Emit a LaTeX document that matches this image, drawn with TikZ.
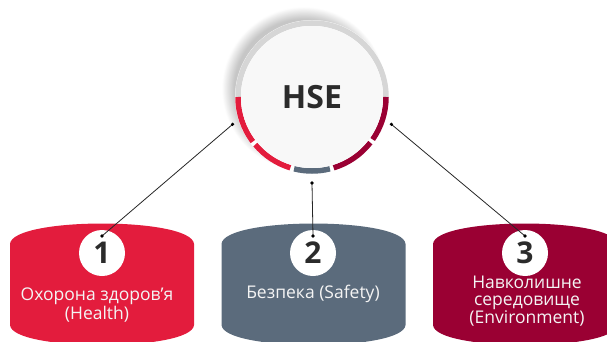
\documentclass[tikz,border=0pt]{standalone}
\usepackage{fontspec}
\setmainfont{Open Sans}
\usepackage{tikz}
\usetikzlibrary{shadows}

\definecolor{hred}{HTML}{E31C3D}
\definecolor{hslate}{HTML}{5B6B7C}
\definecolor{hdark}{HTML}{9A0033}
\definecolor{ringgray}{HTML}{D6D6D6}
\definecolor{diskfill}{HTML}{F8F8F8}
\definecolor{numgray}{HTML}{2B2B2B}
\definecolor{boxtext}{HTML}{F4F4F4}

% barrel shaped box, centred at x = #1
\newcommand\barrel[2]{%
  \fill[#2] (#1-92,244) .. controls (#1-90,216.7) and (#1+90,216.7) .. (#1+92,244)
            -- (#1+92,325) .. controls (#1+90,351.7) and (#1-90,351.7) .. (#1-92,325)
            -- cycle;}

\begin{document}
\begin{tikzpicture}[x=1pt,y=-1pt,
    seg/.style={line width=5.5pt},
    conn/.style={draw=black!85,line width=0.8pt},
    num/.style={circle,fill=white,minimum size=46pt,inner sep=0pt,
                font=\fontsize{30}{30}\selectfont\bfseries,text=numgray},
    lbl/.style={align=center,text=boxtext,font=\fontsize{17.5}{17}\selectfont}]
  \useasboundingbox (0,0) rectangle (607,342);

  % the three boxes
  \barrel{102}{hred}
  \barrel{313.5}{hslate}
  \barrel{525}{hdark}

  % main circle
  \coordinate (c) at (312,97);
  \fill[white,circular drop shadow={shadow xshift=-8pt,shadow yshift=8pt,
        shadow scale=1.06,opacity=0.45}] (c) circle[radius=77];
  \draw[seg,ringgray] ([shift={(180:74)}]c) arc[start angle=180,end angle=360,radius=74];
  \draw[seg,hred]   ([shift={(180:74)}]c) arc[start angle=180,end angle=143,radius=74];
  \draw[seg,hred]   ([shift={(140:74)}]c) arc[start angle=140,end angle=107,radius=74];
  \draw[seg,hslate] ([shift={(104:74)}]c) arc[start angle=104,end angle=76,radius=74];
  \draw[seg,hdark]  ([shift={(73:74)}]c)  arc[start angle=73,end angle=38,radius=74];
  \draw[seg,hdark]  ([shift={(35:74)}]c)  arc[start angle=35,end angle=0,radius=74];
  \node[circle,fill=diskfill,minimum size=142pt,inner sep=0pt,text=numgray,
        font=\fontsize{32}{32}\selectfont\bfseries] (hse) at (c) {HSE};

  % numbers
  \node[num] (n1) at (102,253) {1};
  \node[num] (n2) at (313,253) {2};
  \node[num] (n3) at (525,253) {3};

  % texts
  \node[lbl] (t1) at (97,305) {Охорона здоров’я\\(Health)};
  \node[lbl] (t2) at (313,294) {Безпека (Safety)};
  \node[lbl] (t3) at (527,301) {Навколишне\\середовище\\(Environment)};

  % connectors
  \coordinate (d1) at ([shift={(161:84)}]c);
  \coordinate (d2) at ([shift={(90:86)}]c);
  \coordinate (d3) at ([shift={(19:84)}]c);
  \coordinate (p1) at ([yshift=17pt]n1.center);
  \coordinate (p2) at ([yshift=17pt]n2.center);
  \coordinate (p3) at ([yshift=17pt]n3.center);
  \draw[conn] (d1) -- (p1);
  \draw[conn] (d2) -- (p2);
  \draw[conn] (d3) -- (p3);
  \foreach \p in {d1,d2,d3,p1,p2,p3}
    \fill[black] (\p) circle[radius=1.8];
\end{tikzpicture}
\end{document}
